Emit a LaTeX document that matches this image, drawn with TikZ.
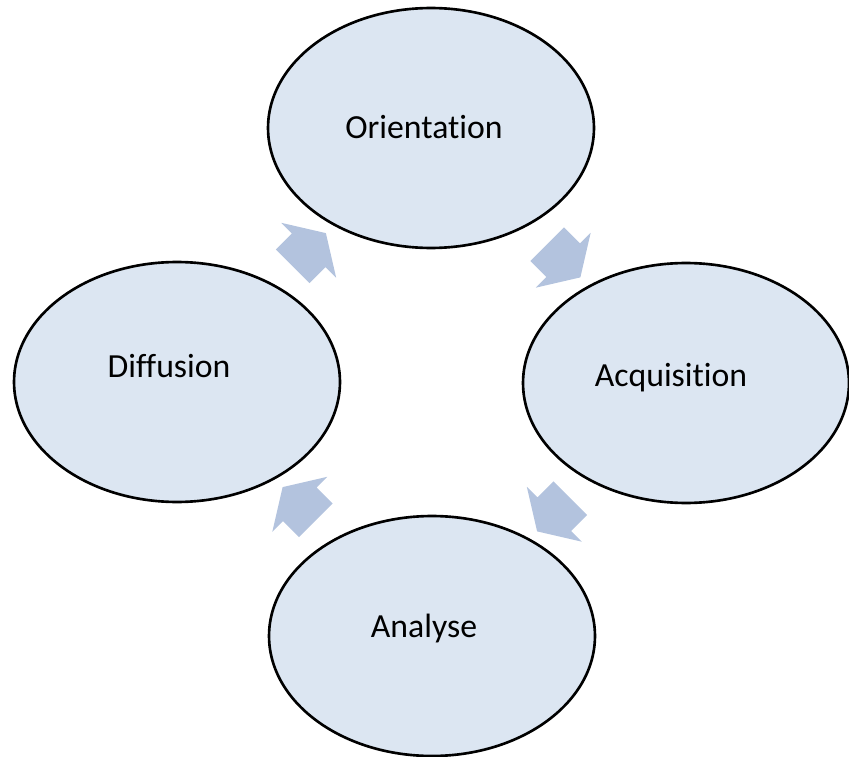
\documentclass[tikz,border=0pt]{standalone}
\usepackage{fontspec}
\setmainfont{Carlito}[Ligatures={NoCommon}]
\usetikzlibrary{shapes.geometric, shapes.arrows, calc}
\definecolor{phasefill}{RGB}{220,230,242}
\definecolor{flowfill}{RGB}{179,195,222}

\begin{document}
\begin{tikzpicture}[
    x=0.02cm, y=-0.02cm,
    phase/.style={ellipse, draw, line width=1.5pt, fill=phasefill, minimum width=6.52cm, minimum height=4.8cm, inner sep=0pt},
    tag/.style={font=\fontsize{19.2}{23}\selectfont},
    flow/.style={single arrow, fill=flowfill, draw=none, inner xsep=0pt, inner ysep=0.47cm, minimum height=0.94cm, single arrow head extend=0.3cm, single arrow tip angle=116}
]
    \useasboundingbox (0,0) rectangle (849,757);

    % the four phases
    \node[phase, label={[tag, xshift=-0.14cm, yshift=0.02cm]center:Orientation}] (orient) at (431,128) {};
    \node[phase, label={[tag, xshift=-0.3cm, yshift=0.1cm]center:Acquisition}] (acq) at (686,383) {};
    \node[phase, label={[tag, xshift=-0.16cm, yshift=0.14cm]center:Analyse}] (anal) at (432,636) {};
    \node[phase, label={[tag, xshift=-0.16cm, yshift=0.32cm]center:Diffusion}] (diff) at (177,382) {};

    % block arrows between them
    \node[flow, rotate=-45] (f1) at ($(orient)!0.5!(acq)$) {};
    \node[flow, rotate=-135] (f2) at ($(acq)!0.5!(anal)$) {};
    \node[flow, rotate=135] (f3) at ($(anal)!0.5!(diff)$) {};
    \node[flow, rotate=45] (f4) at ($(diff)!0.5!(orient)$) {};
\end{tikzpicture}
\end{document}
